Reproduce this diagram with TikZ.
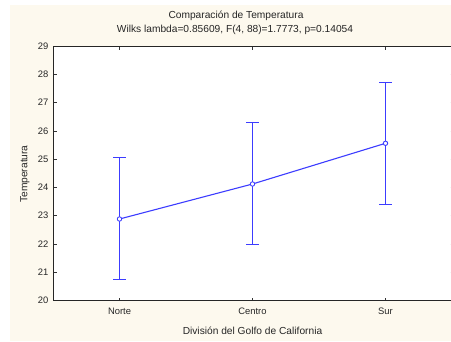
\documentclass[tikz,border=0pt]{standalone}
\usepackage{fontspec}
\setmainfont{Liberation Sans}
\definecolor{cream}{RGB}{253,249,238}
\definecolor{plotblue}{RGB}{60,60,255}
\tikzset{
  axisline/.style={draw=black!85, line width=1pt},
  tickmark/.style={draw=black!80, line width=1pt},
  errbar/.style={draw=plotblue, line width=1.3pt},
  meanline/.style={draw=plotblue, line width=1.1pt},
  meanpt/.style={circle, draw=plotblue, fill=white, line width=0.9pt, inner sep=0pt, minimum size=4.4pt},
  ticklabel/.style={font=\fontsize{9.4}{11}\selectfont, text=black!85, inner sep=0pt},
  titletext/.style={font=\fontsize{10.2}{12}\selectfont, text=black!85, inner sep=0pt}
}
\begin{document}
\begin{tikzpicture}[x=1pt,y=-1pt]
\useasboundingbox (0,0) rectangle (451,341);
\clip (0,0) rectangle (451,341);
\fill[cream] (10,5) rectangle (451,341);
\def\ytop{46.5}
\def\ybot{300.5}
\def\xl{53.5}
\def\xr{453}
\def\sc{28.22}
\fill[white] (\xl,\ytop) rectangle (\xr,\ybot);
% left and right ticks + labels
\foreach \v in {20,...,29}{
  \pgfmathsetmacro{\yy}{round(\ytop+(29-\v)*\sc-0.5)+0.5}
  \draw[tickmark] (\xl,\yy) -- ++(3,0);
  \draw[tickmark] (450.5,\yy) -- ++(3,0);
  \node[ticklabel, anchor=east] at (48.5,\yy) {\v};
}
% category ticks
\foreach \cx/\cn in {119.5/Norte,252.5/Centro,385.5/Sur}{
  \draw[tickmark] (\cx,\ybot) -- ++(0,-3);
  \draw[tickmark] (\cx,\ytop) -- ++(0,3);
  \node[ticklabel] at (\cx,311.7) {\cn};
}
\draw[axisline] (\xr,\ytop) -- (\xl,\ytop) -- (\xl,\ybot) -- (\xr,\ybot);
% titles
\node[titletext] (t1) at (236,16) {Comparación de Temperatura};
\node[titletext] (t2) at (235,29.5) {Wilks lambda=0.85609, F(4, 88)=1.7773, p=0.14054};
\node[titletext] (xt) at (252.5,331) {División del Golfo de California};
\node[titletext, rotate=90] (yt) at (25,174) {Temperatura};
% error bars (pixel positions: mean, low, high)
\foreach \cx/\ym/\yl/\yh/\nm in {119.5/219/279.5/157.5/a,252.5/184/244.5/122.5/b,385.5/143.3/204.5/82.5/c}{
  \draw[errbar] (\cx,\yl) -- (\cx,\yh);
  \draw[errbar] (\cx-6.5,\yl) -- (\cx+6.5,\yl);
  \draw[errbar] (\cx-6.5,\yh) -- (\cx+6.5,\yh);
  \coordinate (\nm) at (\cx,\ym);
}
\draw[meanline] (a) -- (b) -- (c);
\foreach \nm in {a,b,c}{
  \node[meanpt] (p\nm) at (\nm) {};
}
\end{tikzpicture}
\end{document}
